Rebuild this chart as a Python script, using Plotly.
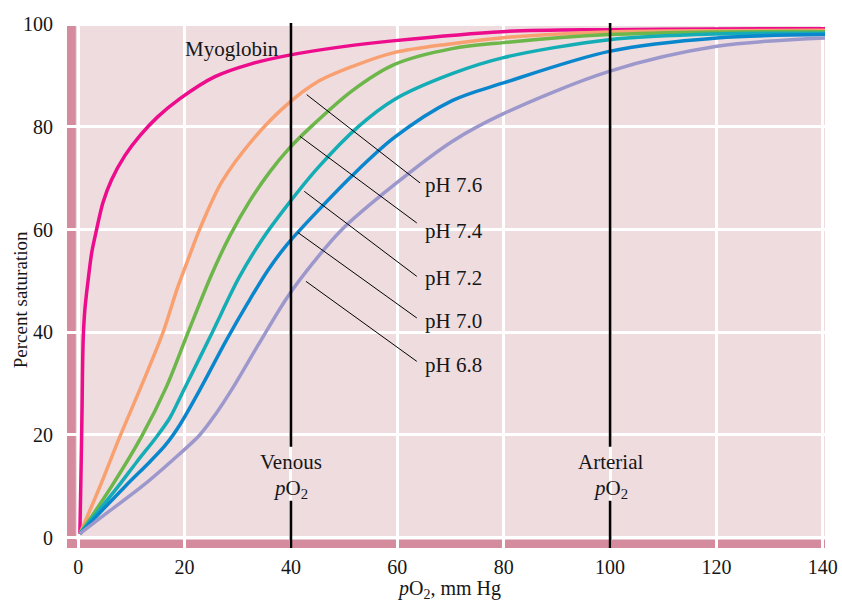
import plotly.graph_objects as go

# ---------------- data ----------------
myo_x = [0.32, 0.51, 0.70, 0.94, 1.26, 1.88, 2.58, 3.46, 4.65, 6.28, 8.78, 11.61, 14.99, 19.13, 25.71, 32.68, 39.45, 49.79, 59.58, 79.70, 99.83, 120.09, 140.4]
myo_y = [0.78, 11.29, 22.98, 38.55, 44.39, 50.23, 55.69, 59.97, 65.23, 69.70, 74.38, 78.27, 81.97, 85.48, 89.76, 92.30, 93.90, 95.60, 96.77, 98.52, 98.91, 99.05, 99.10]

ph76_x = [0.32, 4.08, 7.84, 11.98, 15.93, 18.75, 21.01, 22.89, 27.03, 33.24, 39.26, 45.09, 51.49, 59.39, 70.30, 79.95, 99.83, 120.09, 140.4]
ph76_y = [0.78, 9.93, 19.67, 29.79, 39.91, 48.87, 55.10, 60.16, 69.31, 78.00, 84.31, 88.79, 91.71, 94.43, 96.18, 97.35, 98.46, 98.71, 98.77]

ph74_x = [0.32, 6.28, 11.93, 16.63, 20.64, 25.15, 28.54, 32.30, 36.06, 39.45, 43.59, 51.49, 59.39, 70.30, 79.95, 99.83, 120.09, 140.4]
ph74_y = [0.78, 9.99, 19.72, 29.46, 39.91, 51.40, 58.80, 65.62, 71.26, 75.55, 79.83, 87.00, 92.10, 95.21, 96.38, 97.94, 98.46, 98.52]

ph72_x = [0.32, 7.52, 11.04, 14.75, 17.25, 19.88, 25.09, 30.23, 34.56, 39.26, 45.09, 52.61, 59.39, 70.30, 79.95, 99.83, 120.09, 140.4]
ph72_y = [0.78, 9.99, 14.80, 19.67, 23.36, 28.82, 39.72, 50.62, 58.02, 64.64, 72.04, 79.98, 85.28, 90.34, 93.46, 96.96, 98.07, 98.19]

ph70_x = [0.32, 8.78, 13.49, 16.31, 19.13, 22.89, 27.92, 31.92, 35.74, 39.26, 45.09, 51.49, 59.39, 70.30, 79.95, 99.83, 120.09, 140.4]
ph70_y = [0.78, 9.93, 14.80, 17.91, 22.00, 28.82, 38.55, 45.76, 52.18, 57.05, 63.67, 70.48, 77.88, 85.09, 88.53, 94.68, 97.29, 97.94]

ph68_x = [0.32, 5.96, 11.93, 17.63, 22.89, 25.90, 28.86, 33.99, 39.26, 44.34, 49.55, 59.44, 70.24, 79.95, 99.83, 120.09, 140.4]
ph68_y = [0.78, 5.26, 9.93, 14.99, 20.05, 24.14, 28.82, 37.77, 46.73, 53.74, 59.97, 68.73, 77.10, 82.55, 90.79, 95.66, 97.29]

series_names = ["Myoglobin", "pH 7.6", "pH 7.4", "pH 7.2", "pH 7.0", "pH 6.8"]
series_x = [myo_x, ph76_x, ph74_x, ph72_x, ph70_x, ph68_x]
series_y = [myo_y, ph76_y, ph74_y, ph72_y, ph70_y, ph68_y]
series_colors = ["#ec0c8c", "#f9a070", "#6cb64a", "#14adb5", "#0a87cc", "#9d98cc"]

x_ticks = [0, 20, 40, 60, 80, 100, 120, 140]
y_ticks = [0, 20, 40, 60, 80, 100]
venous_po2 = 40
arterial_po2 = 100

FONT = "Liberation Serif"
TXT = "#161616"

fig = go.Figure()

for name, xs, ys, col in zip(series_names, series_x, series_y, series_colors):
    fig.add_trace(go.Scatter(x=xs, y=ys, mode="lines", name=name,
                             line=dict(color=col, width=3.5, shape="spline", smoothing=0.9),
                             showlegend=False, hoverinfo="skip"))

X0, X1 = -2.1, 140.4
Y0, Y1 = -2.0, 100.2

shapes = []
strip = "#d48b9e"
shapes.append(dict(type="rect", xref="x", yref="y", x0=X0, x1=-0.45, y0=Y0, y1=Y1,
                   fillcolor=strip, line=dict(width=0), layer="below"))
shapes.append(dict(type="rect", xref="x", yref="y", x0=X0, x1=X1, y0=Y0, y1=-0.4,
                   fillcolor=strip, line=dict(width=0), layer="below"))

for xv in (venous_po2, arterial_po2):
    shapes.append(dict(type="line", xref="x", yref="y", x0=xv, x1=xv, y0=17.7, y1=Y1 + 0.3,
                       line=dict(color="black", width=2.6), layer="above"))
    shapes.append(dict(type="line", xref="x", yref="y", x0=xv, x1=xv, y0=Y0, y1=7.2,
                       line=dict(color="black", width=2.6), layer="above"))

pointers = [((42.96, 86.25), (64.28, 69.06)),
            ((41.70, 78.13), (63.66, 61.27)),
            ((42.51, 67.43), (63.66, 50.88)),
            ((41.27, 59.44), (63.66, 42.78)),
            ((42.83, 49.90), (63.66, 34.33))]
for (a, b) in pointers:
    shapes.append(dict(type="line", xref="x", yref="y", x0=a[0], y0=a[1], x1=b[0], y1=b[1],
                       line=dict(color="black", width=1), layer="above"))

annotations = []
label_y = [68.73, 59.64, 50.56, 42.11, 33.68]
for name, ly in zip(series_names[1:], label_y):
    annotations.append(dict(x=64.84, y=ly, xref="x", yref="y", text=name, showarrow=False,
                            xanchor="left", yanchor="middle", font=dict(family=FONT, size=21, color=TXT)))
annotations.append(dict(x=28.9, y=95.2, xref="x", yref="y", text="Myoglobin", showarrow=False,
                        xanchor="center", yanchor="middle", font=dict(family=FONT, size=21, color=TXT)))
for xv, word in ((venous_po2, "Venous"), (arterial_po2, "Arterial")):
    annotations.append(dict(x=xv, y=14.8, xref="x", yref="y", text=word, showarrow=False,
                            xanchor="center", yanchor="middle", font=dict(family=FONT, size=21, color=TXT)))
    annotations.append(dict(x=xv, y=9.4, xref="x", yref="y", text="<i>p</i>O<sub>2</sub>", showarrow=False,
                            xanchor="center", yanchor="middle", font=dict(family=FONT, size=21, color=TXT)))
annotations.append(dict(x=-0.062, y=0.472, xref="paper", yref="paper", text="Percent saturation",
                        textangle=-90, showarrow=False, xanchor="center", yanchor="middle",
                        font=dict(family=FONT, size=19, color=TXT)))
annotations.append(dict(x=0.504, y=-0.079, xref="paper", yref="paper", text="<i>p</i>O<sub>2</sub>, mm Hg",
                        showarrow=False, xanchor="center", yanchor="middle",
                        font=dict(family=FONT, size=20, color=TXT)))

fig.update_layout(
    width=842, height=602,
    margin=dict(l=67, r=17, t=23, b=54, autoexpand=False),
    paper_bgcolor="white",
    plot_bgcolor="#eedcdf",
    shapes=shapes,
    annotations=annotations,
    font=dict(family=FONT, size=20, color=TXT),
)
fig.update_xaxes(range=[X0, X1], tickvals=x_ticks, showgrid=True, gridcolor="white", gridwidth=2.5,
                 zeroline=False, showline=False, ticks="outside", ticklen=1, tickcolor="rgba(0,0,0,0)",
                 automargin=False, tickfont=dict(family=FONT, size=20, color=TXT))
fig.update_yaxes(range=[Y0, Y1], tickvals=y_ticks, showgrid=True, gridcolor="white", gridwidth=2.5,
                 zeroline=False, showline=False, ticks="outside", ticklen=9, tickcolor="rgba(0,0,0,0)",
                 automargin=False, tickfont=dict(family=FONT, size=20, color=TXT))

fig.write_html("out.html", config={"displayModeBar": False},
               post_script="document.body.style.margin='0px';document.body.style.overflow='hidden';")
